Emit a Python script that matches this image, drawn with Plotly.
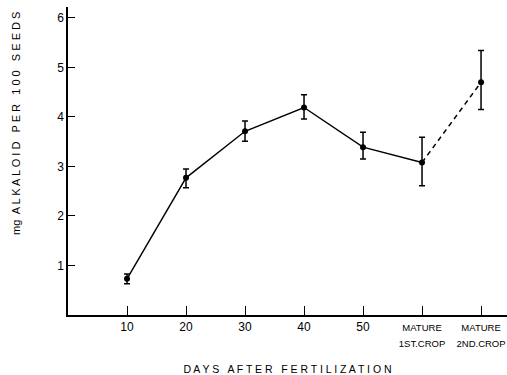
import plotly.graph_objects as go

x_pos = [10, 20, 30, 40, 50, 60, 70]
tick_labels = ["10", "20", "30", "40", "50",
               "<span style='font-size:9.5px'>MATURE<br>1ST.CROP</span>",
               "<span style='font-size:9.5px'>MATURE<br>2ND.CROP</span>"]
alkaloid = [0.73, 2.77, 3.71, 4.19, 3.39, 3.08, 4.70]
err_plus = [0.10, 0.18, 0.21, 0.26, 0.30, 0.51, 0.64]
err_minus = [0.10, 0.20, 0.20, 0.23, 0.24, 0.47, 0.55]

fig = go.Figure()
fig.add_trace(go.Scatter(
    x=x_pos[:6], y=alkaloid[:6], mode="lines+markers",
    line=dict(color="black", width=1.4),
    marker=dict(color="black", size=6),
    error_y=dict(type="data", array=err_plus[:6], arrayminus=err_minus[:6],
                 color="black", thickness=1.5, width=3),
    showlegend=False))
fig.add_trace(go.Scatter(
    x=x_pos[5:], y=alkaloid[5:], mode="lines",
    line=dict(color="black", width=1.4, dash="5px,4px"),
    showlegend=False))
fig.add_trace(go.Scatter(
    x=x_pos[6:], y=alkaloid[6:], mode="markers",
    marker=dict(color="black", size=6),
    error_y=dict(type="data", array=err_plus[6:], arrayminus=err_minus[6:],
                 color="black", thickness=1.5, width=3),
    showlegend=False))

fig.add_annotation(
    text="mg  A L K A L O I D   P E R   1 0 0   S E E D S",
    xref="paper", yref="paper", x=(16 - 68) / 439, y=(315 - 124) / 308,
    xanchor="center", yanchor="middle", textangle=-90, showarrow=False,
    font=dict(size=11, family="Liberation Sans, Arial, sans-serif", color="black"))

fig.update_layout(
    width=507, height=375,
    margin=dict(l=68, r=0, t=7, b=60),
    plot_bgcolor="white", paper_bgcolor="white",
    font=dict(family="Liberation Sans, Arial, sans-serif", color="black", size=11),
    xaxis=dict(range=[0, 74.4], tickvals=x_pos, ticktext=tick_labels,
               showline=True, linecolor="black", linewidth=1.5, automargin=False,
               ticks="inside", ticklen=9, tickwidth=1.2, tickcolor="black",
               showgrid=False, zeroline=False, tickfont=dict(size=12),
               title=dict(text="D A Y S   A F T E R   F E R T I L I Z A T I O N",
                          font=dict(size=10.5), standoff=22)),
    yaxis=dict(range=[0, 6.22], tickvals=[1, 2, 3, 4, 5, 6], automargin=False,
               showline=True, linecolor="black", linewidth=1.5,
               ticks="inside", ticklen=7, tickwidth=1.2, tickcolor="black",
               showgrid=False, zeroline=False, tickfont=dict(size=12)),
)
fig.write_html("out.html")
